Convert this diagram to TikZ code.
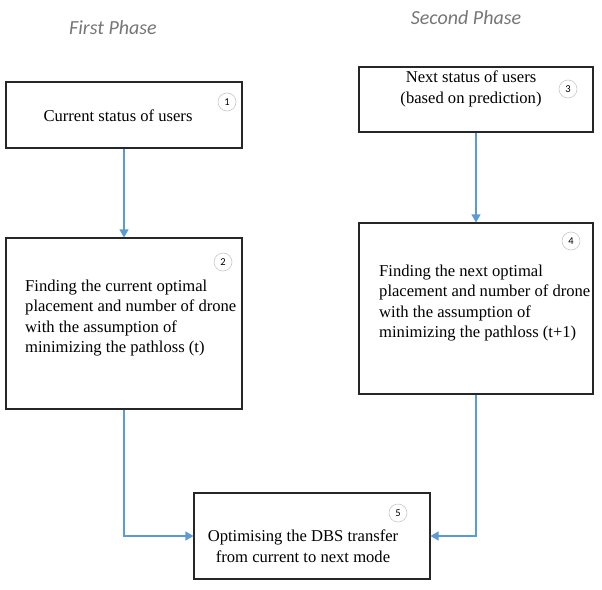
\documentclass[tikz,border=0pt]{standalone}
\usepackage{fontspec}
\setmainfont{Liberation Serif}
\newfontfamily\labfont{Carlito}
\usetikzlibrary{arrows.meta}
\definecolor{arrowblue}{RGB}{91,155,213}
\definecolor{phasegray}{RGB}{118,118,118}
\definecolor{circgray}{RGB}{200,200,200}
\tikzset{
  box/.style={draw=black!85, line width=1.1pt, fill=white, inner sep=0pt},
  txt/.style={font=\fontsize{16.6}{20.5}\selectfont, inner sep=0pt},
  num/.style={circle, draw=circgray, line width=0.6pt, minimum size=18pt, inner sep=0pt, font=\labfont\fontsize{10.5}{12}\selectfont},
  phase/.style={font=\labfont\itshape\fontsize{20}{22}\selectfont, text=phasegray, inner sep=0pt},
  conn/.style={draw=arrowblue, line width=1.1pt, -{Triangle[width=9pt,length=8pt]}}
}
\begin{document}
\begin{tikzpicture}[x=1pt,y=-1pt]
\useasboundingbox (0,0) rectangle (602,589);
% phase labels
\node[phase] (p1) at (113,28) {First Phase};
\node[phase] (p2) at (466,18) {Second Phase};
% boxes
\node[box, minimum width=236pt, minimum height=66pt] (b1) at (124,115) {};
\node[box, minimum width=236pt, minimum height=171pt] (b2) at (124,323.5) {};
\node[box, minimum width=234pt, minimum height=65pt] (b3) at (476,99.5) {};
\node[box, minimum width=234pt, minimum height=171pt] (b4) at (476,308.5) {};
\node[box, minimum width=236pt, minimum height=86pt] (b5) at (312,536) {};
% texts
\node[txt] (t1) at (118,116) {Current status of users};
\node[txt, align=center] (t3) at (471,89) {Next status of users\\(based on prediction)};
\node[txt, align=left, anchor=west] (t2) at (25,318) {Finding the current optimal\\placement and number of drone\\with the assumption of\\minimizing the pathloss (t)};
\node[txt, align=left, anchor=west] (t4) at (379,303) {Finding the next optimal\\placement and number of drone\\with the assumption of\\minimizing the pathloss (t+1)};
\node[txt, align=center] (t5) at (303,546) {Optimising the DBS transfer\\from current to next mode};
% numbers
\node[num] (n1) at (227,102) {1};
\node[num] (n2) at (223,262) {2};
\node[num] (n3) at (568,89) {3};
\node[num] (n4) at (571,241) {4};
\node[num] (n5) at (398,513) {5};
% connectors
\draw[conn] (b1.south) -- (b2.north);
\draw[conn] (b3.south) -- (b4.north);
\draw[conn] (b2.south) |- (b5.west);
\draw[conn] (b4.south) |- (b5.east);
\end{tikzpicture}
\end{document}
